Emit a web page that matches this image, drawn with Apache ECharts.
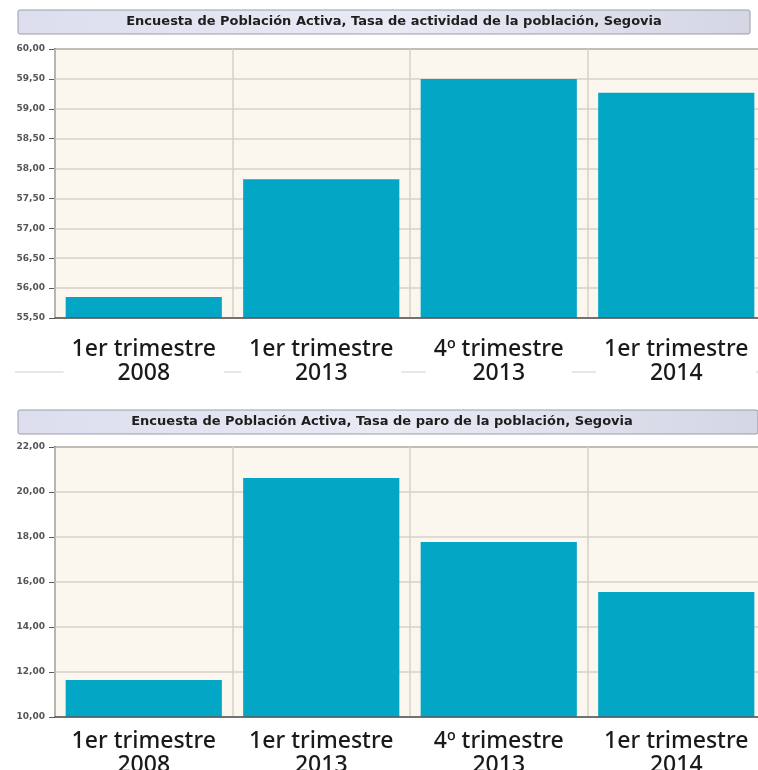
<!DOCTYPE html>
<html>
<head>
<meta charset="utf-8">
<script src="https://cdn.jsdelivr.net/npm/echarts@6/dist/echarts.min.js"></script>
<style>
html,body{margin:0;padding:0;background:#fff;}
#c{width:758px;height:770px;}
</style>
</head>
<body>
<div id="c"></div>
<script>
const categories = ['1er trimestre\n2008', '1er trimestre\n2013', '4º trimestre\n2013', '1er trimestre\n2014'];
const tasaActividad = [55.85, 57.82, 59.50, 59.27];
const tasaParo = [11.64, 20.62, 17.78, 15.56];
const title1 = 'Encuesta de Población Activa, Tasa de actividad de la población, Segovia';
const title2 = 'Encuesta de Población Activa, Tasa de paro de la población, Segovia';
const yTop = {min: 55.5, max: 60, interval: 0.5};
const yBottom = {min: 10, max: 22, interval: 2};

const chart = echarts.init(document.getElementById('c'), null, {renderer: 'canvas'});

const fmt = v => v.toFixed(2).replace('.', ',');
const barColor = '#03a6c5';
const gridLine = '#d6d0c8';
const axisDark = '#5a5a5a';

function yAxisDef(idx, cfg) {
  return {
    type: 'value', gridIndex: idx, min: cfg.min, max: cfg.max, interval: cfg.interval,
    axisLine: {show: true, lineStyle: {color: axisDark, width: 1.5}},
    axisTick: {show: true, length: 6, lineStyle: {color: axisDark}},
    axisLabel: {formatter: fmt, fontSize: 9, fontWeight: 'bold', color: '#555', fontFamily: 'DejaVu Sans', margin: 10},
    splitLine: {show: true, lineStyle: {color: gridLine, width: 1.5}}
  };
}
function xAxisDef(idx, margin) {
  return {
    type: 'category', gridIndex: idx, data: categories, z: 10,
    axisLine: {show: true, lineStyle: {color: axisDark, width: 1.5}},
    axisTick: {show: false},
    splitLine: {show: true, lineStyle: {color: gridLine, width: 1.5}},
    axisLabel: {
      interval: 0, margin: margin, fontSize: 23, fontWeight: 500, lineHeight: 24, color: '#1a1a1a',
      fontFamily: 'Noto Sans', backgroundColor: '#ffffff', padding: [4, 8, 2, 8]
    }
  };
}

function titleBar(y, x2, text, cx) {
  return [
    {
      type: 'rect', z: 1,
      shape: {x: 18, y: y, width: x2 - 18, height: 24, r: 2},
      style: {
        fill: new echarts.graphic.LinearGradient(0, 0, 1, 0, [
          {offset: 0, color: '#dcdeee'},
          {offset: 0.5, color: '#e8eaf4'},
          {offset: 1, color: '#d4d6e4'}
        ]),
        stroke: '#9c9ca8', lineWidth: 1
      }
    },
    {
      type: 'text', z: 2, x: cx, y: y + 12,
      style: {text: text, font: 'bold 13px "DejaVu Sans"', fill: '#1e1e1e', align: 'center', verticalAlign: 'middle'}
    }
  ];
}

const gridCommon = {left: 55, right: -7, show: true, backgroundColor: '#fbf7ef', borderColor: axisDark, borderWidth: 1.5, containLabel: false, outerBoundsMode: 'none'};

const option = {
  backgroundColor: '#ffffff',
  animation: false,
  grid: [
    Object.assign({top: 49, height: 269}, gridCommon),
    Object.assign({top: 447, height: 270}, gridCommon)
  ],
  xAxis: [xAxisDef(0, 15), xAxisDef(1, 8)],
  yAxis: [yAxisDef(0, yTop), yAxisDef(1, yBottom)],
  series: [
    {type: 'bar', xAxisIndex: 0, yAxisIndex: 0, data: tasaActividad, barCategoryGap: '12%', itemStyle: {color: barColor}},
    {type: 'bar', xAxisIndex: 1, yAxisIndex: 1, data: tasaParo, barCategoryGap: '12%', itemStyle: {color: barColor}}
  ],
  graphic: [
    {type: 'line', z: 0, shape: {x1: 15, y1: 372, x2: 758, y2: 372}, style: {stroke: '#cfcfcf', lineWidth: 1}},
    ...titleBar(10, 750, title1, 394),
    ...titleBar(410, 758, title2, 382)
  ]
};
chart.setOption(option);
</script>
</body>
</html>
